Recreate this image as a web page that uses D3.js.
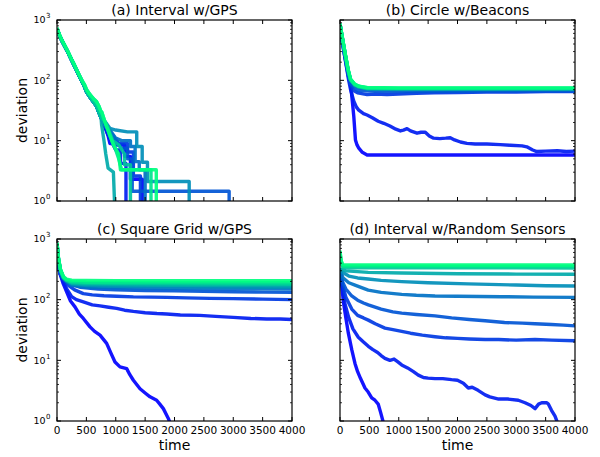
<!DOCTYPE html>
<html><head><meta charset="utf-8">
<script src="https://cdn.jsdelivr.net/npm/d3@7"></script>
<style>
body{margin:0;background:#fff}
svg{display:block}
text{font-family:"DejaVu Sans",sans-serif;fill:#000}
</style>
</head><body>
<svg id="chart" width="600" height="457"></svg>
<script>
// ---------- data ----------
const panelTitles = ["(a) Interval w/GPS", "(b) Circle w/Beacons", "(c) Square Grid w/GPS", "(d) Interval w/Random Sensors"];
const xTickValues = [0, 500, 1000, 1500, 2000, 2500, 3000, 3500, 4000];
const yTickValues = [1, 10, 100, 1000];
const yTickExponents = ["0", "1", "2", "3"];
const xLabel = "time";
const yLabel = "deviation";

// (a) common early decay
const aTrunkLow = [[0,720],[40,560],[80,460],[125,380],[165,320],[210,260],[250,215],[295,175],[335,145],[380,118],[420,98],[465,80],[505,64],[550,55],[590,48],[635,42],[675,37],[710,30],[750,24]];
const aTrunkHigh = [[0,740],[40,580],[80,470],[125,390],[165,330],[210,268],[250,222],[295,182],[335,150],[380,122],[420,102],[465,86],[505,70],[550,60],[590,54],[635,48],[675,44],[710,38],[750,30]];
const aTails = [
  [[790,19],[830,16],[870,12],[900,9],[1000,9],[1000,8.5],[1150,8.5],[1150,5.5],[1250,5.5],[1250,2.3],[1452,2.3],[1452,0.5]],
  [[800,18],[860,13],[920,10],[1000,7],[1080,7],[1080,4.2],[1174,4.2],[1174,0.5]],
  [[820,17],[900,14],[960,12],[1050,9],[1200,9],[1200,6.5],[1300,6.5],[1300,2.6],[1420,2.6],[1420,0.5]],
  [[820,18],[900,13],[1000,10],[1100,7.5],[1200,7.5],[1200,5],[1280,5],[1280,1.45],[2930,1.45],[2930,0.5]],
  [[830,17],[900,15],[1000,11],[1100,10],[1250,10],[1250,8],[1330,8],[1330,4.5],[1400,4.5],[1400,3.3],[1500,3.3],[1500,0.5]],
  [[830,20],[900,16],[1000,15],[1200,14],[1357,14],[1357,8],[1450,8],[1450,4.4],[1540,4.4],[1540,2.1],[2250,2.1],[2250,0.5]],
  [[760,18],[800,10],[830,6],[870,3.5],[960,3],[990,0.5]],
  [[800,22],[870,16],[950,10],[1050,8.5],[1150,6],[1150,4],[1250,4],[1250,0.5]],
  [[760,30],[820,20],[900,12],[1000,7],[1050,5],[1100,3.3],[1600,3.3],[1600,0.5]],
  [[760,30],[820,20],[880,14],[950,9],[1050,6],[1080,3.3],[1690,3.3],[1690,0.5]]
];

// (b)
const bSeries = [
  [[0,800],[40,450],[90,250],[140,140],[180,89],[210,45],[235,25],[263,10.3],[290,8.5],[320,7.5],[380,6.4],[461,5.8],[1000,5.8],[2000,5.8],[3000,5.8],[4000,5.8]],
  [[0,800],[40,420],[90,220],[140,110],[180,70],[210,55],[235,45],[280,36],[320,32],[400,28],[461,26.6],[550,24],[650,21],[745,19.4],[850,17.5],[950,15.5],[1028,14.5],[1080,15],[1141,15.8],[1200,14.5],[1311,13.3],[1380,13.8],[1452,13.8],[1520,12],[1594,11],[1700,10.8],[1800,11],[1877,11.2],[1950,10.3],[2050,9.5],[2160,9],[2300,8.8],[2500,8.8],[2726,8.6],[2900,8.4],[3100,8.2],[3180,7.9],[3280,7],[3349,6.6],[3500,6.7],[3700,6.8],[3850,6.6],[4000,6.7]],
  [[0,800],[40,430],[90,220],[140,120],[180,85],[230,68],[300,62],[461,58],[600,59],[800,58],[1000,59],[1300,61],[1600,62],[2000,63],[2500,64],[3000,64],[3500,65],[4000,65]],
  [[0,800],[40,440],[90,230],[140,125],[180,88],[300,68],[600,66],[1000,65],[2000,66],[3000,67],[4000,67]],
  [[0,850],[40,500],[90,260],[140,140],[180,100],[250,82],[320,76],[461,71],[1000,70],[2000,70],[3000,70],[4000,70]],
  [[0,850],[40,500],[90,262],[140,142],[180,101],[250,83],[320,77],[461,72],[1000,71],[2000,71],[3000,71],[4000,71]],
  [[0,860],[40,505],[90,265],[140,144],[180,102],[250,84],[320,78],[461,73],[1000,72],[2000,72],[3000,72],[4000,72]],
  [[0,860],[40,505],[90,268],[140,146],[180,103],[250,85],[320,79],[461,74],[1000,73],[2000,73],[3000,73],[4000,73]],
  [[0,870],[40,510],[90,270],[140,148],[180,104],[250,86],[320,80],[461,75],[1000,74],[2000,74],[3000,74],[4000,74]],
  [[0,870],[40,510],[90,272],[140,150],[180,105],[250,87],[320,80],[461,76],[1000,75],[2000,75],[3000,75],[4000,75]]
];

// (c)
const cSeries = [
  [[0,800],[20,400],[50,270],[100,190],[164,135],[230,95],[306,76],[380,58],[448,49],[562,35.6],[640,30],[732,26],[845,19],[920,13],[987,9.4],[1072,7.8],[1186,7.3],[1240,5.8],[1300,4.7],[1413,3.4],[1500,2.9],[1583,2.5],[1696,2.2],[1750,1.9],[1810,1.6],[1895,1.1],[1930,0.9]],
  [[0,800],[20,400],[50,270],[100,210],[165,150],[250,112],[330,100],[448,92],[600,82],[732,79],[880,75],[1015,72],[1150,67],[1300,64],[1500,61],[1700,59],[1866,58],[2100,56],[2430,55],[2700,53],[3000,51],[3300,49],[3570,48],[3800,48],[4000,47]],
  [[0,800],[20,400],[50,270],[100,220],[200,170],[300,145],[448,126],[600,120],[800,116],[1015,114],[1300,111],[1600,110],[1866,109],[2200,107],[2600,105],[3000,104],[3500,102],[4000,100]],
  [[0,800],[20,420],[50,280],[100,225],[200,185],[400,160],[700,150],[1000,146],[1500,142],[2000,140],[2500,137],[3000,135],[3500,133],[4000,132]],
  [[0,820],[25,460],[60,300],[110,225],[160,200],[250,172],[500,162],[1000,157],[2000,154],[3000,152],[4000,150]],
  [[0,830],[25,465],[60,300],[110,228],[160,205],[250,180],[500,171],[1000,166],[2000,163],[3000,161],[4000,160]],
  [[0,840],[25,470],[60,305],[110,230],[160,208],[250,186],[500,178],[1000,175],[2000,173],[3000,171],[4000,170]],
  [[0,850],[25,475],[60,305],[110,232],[160,210],[250,192],[500,186],[1000,184],[2000,182],[3000,181],[4000,180]],
  [[0,860],[25,480],[60,310],[110,235],[160,212],[250,198],[500,194],[1000,192],[2000,191],[3000,190],[4000,190]],
  [[0,870],[25,485],[60,315],[110,240],[160,218],[250,210],[500,207],[1000,206],[2000,205],[3000,205],[4000,205]]
];

// (d)
const dSeries = [
  [[0,320],[30,170],[57,93],[100,50],[142,28],[200,15],[255,8.9],[300,6.5],[350,5],[425,3.5],[480,3],[540,2.4],[595,2.2],[650,1.9],[690,1.4],[737,0.95]],
  [[0,320],[40,170],[85,85],[150,50],[220,33],[312,24],[400,20],[482,17],[560,15],[640,13.5],[700,12],[765,10.8],[850,10],[920,10.5],[980,9.5],[1050,8.4],[1150,7.5],[1250,6.5],[1333,5.7],[1420,5.2],[1500,5.1],[1617,5.0],[1750,5.0],[1900,4.8],[2000,4.7],[2100,4.2],[2184,3.5],[2250,3.6],[2350,3.2],[2470,2.7],[2550,2.5],[2700,2.3],[2850,2.3],[3035,2.2],[3150,2.0],[3250,1.8],[3320,1.6],[3380,1.9],[3433,2.0],[3520,2.0],[3546,1.9],[3600,1.5],[3660,1.2],[3700,0.95]],
  [[0,320],[40,180],[100,110],[200,70],[300,55],[400,50],[482,46],[600,40],[765,34],[900,32],[1050,30],[1200,28],[1400,26],[1617,24.5],[1800,23.5],[2000,23],[2200,22.5],[2470,22],[2700,22],[3000,21.5],[3320,22],[3600,21.5],[4000,21]],
  [[0,320],[40,200],[100,150],[200,115],[300,98],[400,88],[482,82],[700,70],[900,63],[1050,60],[1300,57],[1617,54],[1900,50],[2200,47],[2470,45],[2800,42],[3100,41],[3320,40],[3600,39],[3800,38],[4000,37]],
  [[0,320],[50,230],[150,190],[255,174],[480,144],[700,132],[1050,122],[1300,118],[1617,115],[2000,114],[2750,112],[3300,110],[4000,109]],
  [[0,320],[50,280],[150,245],[300,228],[480,219],[700,208],[1050,198],[1500,190],[2184,182],[3000,174],[3500,170],[4000,168]],
  [[0,320],[100,300],[300,290],[480,282],[1050,275],[2000,268],[3000,264],[4000,262]],
  [[0,560],[20,400],[50,340],[200,336],[1000,335],[2000,334],[3000,334],[4000,333]],
  [[0,600],[20,420],[50,355],[200,355],[1000,354],[2000,353],[3000,353],[4000,352]],
  [[0,640],[20,440],[50,375],[200,375],[1000,374],[2000,373],[3000,373],[4000,372]]
];

const aSeries = aTails.map((tail, i) => (i >= 8 ? aTrunkHigh : aTrunkLow).concat(tail));
const allPanels = [aSeries, bSeries, cSeries, dSeries];

// ---------- layout ----------
const boxes = [
  {x0:57, x1:292, y0:20, y1:201},
  {x0:340, x1:575, y0:20, y1:201},
  {x0:57, x1:292, y0:239, y1:421},
  {x0:340, x1:575, y0:239, y1:421}
];

const svg = d3.select("#chart");
const winter = t => d3.rgb(0, Math.round(255*t), Math.round(255*(1 - t/2))).toString();

boxes.forEach((b, p) => {
  const x = d3.scaleLinear().domain([0, 4000]).range([b.x0, b.x1]);
  const y = d3.scaleLog().domain([1, 1000]).range([b.y1, b.y0]);
  const g = svg.append("g");
  const clipId = "clip" + p;
  svg.append("clipPath").attr("id", clipId).append("rect")
    .attr("x", b.x0).attr("y", b.y0).attr("width", b.x1 - b.x0).attr("height", b.y1 - b.y0);

  const line = d3.line().x(d => x(d[0])).y(d => y(Math.max(d[1], 0.3)));
  const series = allPanels[p];
  const n = series.length;
  g.append("g").attr("clip-path", `url(#${clipId})`)
    .selectAll("path").data(series).join("path")
    .attr("d", line)
    .attr("fill", "none")
    .attr("stroke", (d, i) => winter(i / (n - 1)))
    .attr("stroke-width", 3.4)
    .attr("stroke-opacity", 0.92)
    .attr("stroke-linejoin", "round")
    .attr("stroke-linecap", "butt");

  // frame
  g.append("rect").attr("x", b.x0).attr("y", b.y0)
    .attr("width", b.x1 - b.x0).attr("height", b.y1 - b.y0)
    .attr("fill", "none").attr("stroke", "#000").attr("stroke-width", 1.2);

  // x ticks (inward, top and bottom)
  xTickValues.forEach(v => {
    const xp = x(v);
    g.append("line").attr("x1", xp).attr("x2", xp).attr("y1", b.y1).attr("y2", b.y1 - 4).attr("stroke", "#000").attr("stroke-width", 1);
    g.append("line").attr("x1", xp).attr("x2", xp).attr("y1", b.y0).attr("y2", b.y0 + 4).attr("stroke", "#000").attr("stroke-width", 1);
  });
  // y ticks major & minor
  const minor = [];
  [1, 10, 100].forEach(d0 => { for (let k = 2; k <= 9; k++) minor.push(d0 * k); });
  yTickValues.forEach(v => {
    const yp = y(v);
    g.append("line").attr("x1", b.x0).attr("x2", b.x0 + 4).attr("y1", yp).attr("y2", yp).attr("stroke", "#000").attr("stroke-width", 1);
    g.append("line").attr("x1", b.x1).attr("x2", b.x1 - 4).attr("y1", yp).attr("y2", yp).attr("stroke", "#000").attr("stroke-width", 1);
  });
  minor.forEach(v => {
    const yp = y(v);
    g.append("line").attr("x1", b.x0).attr("x2", b.x0 + 2).attr("y1", yp).attr("y2", yp).attr("stroke", "#000").attr("stroke-width", 0.8);
    g.append("line").attr("x1", b.x1).attr("x2", b.x1 - 2).attr("y1", yp).attr("y2", yp).attr("stroke", "#000").attr("stroke-width", 0.8);
  });

  // title
  g.append("text").attr("x", (b.x0 + b.x1) / 2).attr("y", b.y0 - 5)
    .attr("text-anchor", "middle").style("font-size", "14px").text(panelTitles[p]);

  // y tick labels (left column only)
  if (p % 2 === 0) {
    yTickValues.forEach((v, i) => {
      const yp = y(v);
      g.append("text").attr("x", b.x0 - 11.5).attr("y", yp + 3.3)
        .attr("text-anchor", "end").style("font-size", "9.5px").text("10");
      g.append("text").attr("x", b.x0 - 11).attr("y", yp - 1.8)
        .attr("text-anchor", "start").style("font-size", "7px").text(yTickExponents[i]);
    });
    g.append("text")
      .attr("transform", `translate(${b.x0 - 30.5},${(b.y0 + b.y1) / 2}) rotate(-90)`)
      .attr("text-anchor", "middle").style("font-size", "14px").text(yLabel);
  }
  // x tick labels (bottom row only)
  if (p >= 2) {
    xTickValues.forEach(v => {
      g.append("text").attr("x", x(v)).attr("y", b.y1 + 12.5)
        .attr("text-anchor", "middle").style("font-size", "10.5px").text(String(v));
    });
    g.append("text").attr("x", (b.x0 + b.x1) / 2).attr("y", b.y1 + 29)
      .attr("text-anchor", "middle").style("font-size", "14px").text(xLabel);
  }
});
</script>
</body></html>
